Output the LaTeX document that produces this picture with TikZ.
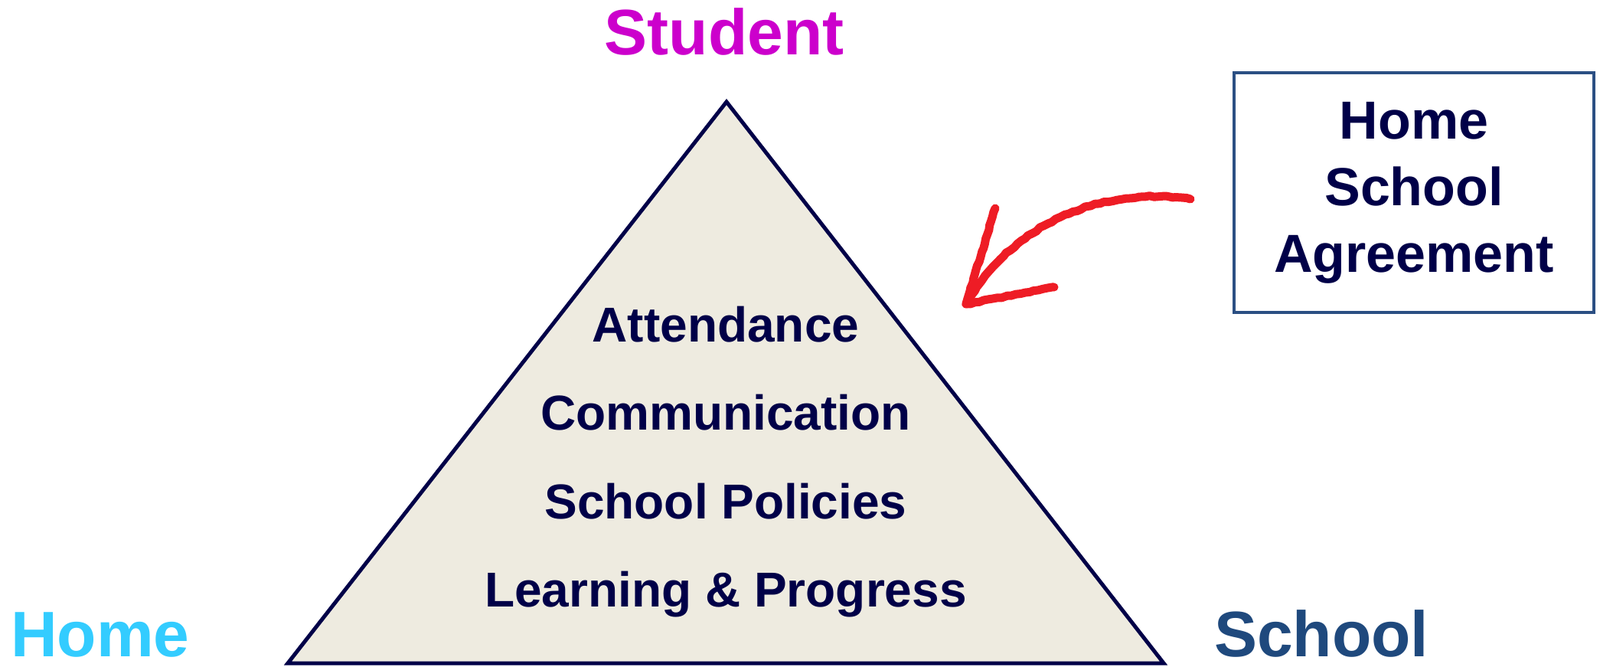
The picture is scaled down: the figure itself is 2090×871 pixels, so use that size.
\documentclass[tikz,border=0pt]{standalone}
\usepackage{fontspec}
\setmainfont{Liberation Sans}
\usepackage{xcolor}
\usetikzlibrary{positioning,calc,decorations.pathmorphing}
\definecolor{navy}{HTML}{000048}
\definecolor{tan}{HTML}{EEEBE0}
\definecolor{studentcol}{HTML}{CC00CC}
\definecolor{homecol}{HTML}{33CCFF}
\definecolor{schoolcol}{HTML}{1F497D}
\definecolor{boxcol}{HTML}{2B4F83}
\definecolor{crayon}{HTML}{EE1C25}
\tikzset{%
	corner/.style    = {font=\fontsize{42}{50}\selectfont\bfseries, anchor=base, inner sep=0pt},
	topic/.style     = {font=\fontsize{32}{38}\selectfont\bfseries, text=navy, anchor=base, inner sep=0pt},
	agreement/.style = {draw=boxcol, line width=2.2pt, minimum width=235pt, minimum height=156.5pt, inner sep=0pt, align=center, text=navy, font=\fontsize{35}{43.5}\selectfont\bfseries},
	pyramid/.style   = {draw=navy, fill=tan, line width=2.5pt, line join=miter},
	crayonline/.style= {draw=crayon, line width=5.5pt, line cap=round, line join=round, decorate, decoration={random steps, segment length=3pt, amplitude=0.5pt}},
}

\begin{document}
\begin{tikzpicture}[x=0.5pt,y=-0.5pt]
	\useasboundingbox (0,0) rectangle (2090,871);
	
	% the triangle and its corners
	\coordinate (apex) at (949,133);
	\coordinate (baseL) at (376,866);
	\coordinate (baseR) at (1520,866);
	\draw[pyramid] (apex) -- (baseR) -- (baseL) -- cycle;
	
	\node[corner, text=studentcol] (student) at (946,72) {Student};
	\node[corner, text=homecol] (home) at (131,857) {Home};
	\node[corner, text=schoolcol] (school) at (1726,857) {School};
	
	\foreach \t [count=\i] in {Attendance,Communication,School Policies,Learning \& Progress}
		\node[topic] (topic\i) at (948,{332+115*\i}) {\t};
	
	% agreement box and the red arrow
	\node[agreement] (hsa) at (1847,251.5) {Home\\School\\Agreement};
	
	\coordinate (tail) at (1555,260);
	\coordinate (tip) at (1262,397);
	\coordinate (headL) at (1300,272);
	\coordinate (headR) at (1377,375);
	\draw[crayonline] (tail) .. controls (1420,240) and (1310,310) .. (tip);
	\draw[crayonline] (headL) -- (tip) -- (headR);
\end{tikzpicture}
\end{document}
